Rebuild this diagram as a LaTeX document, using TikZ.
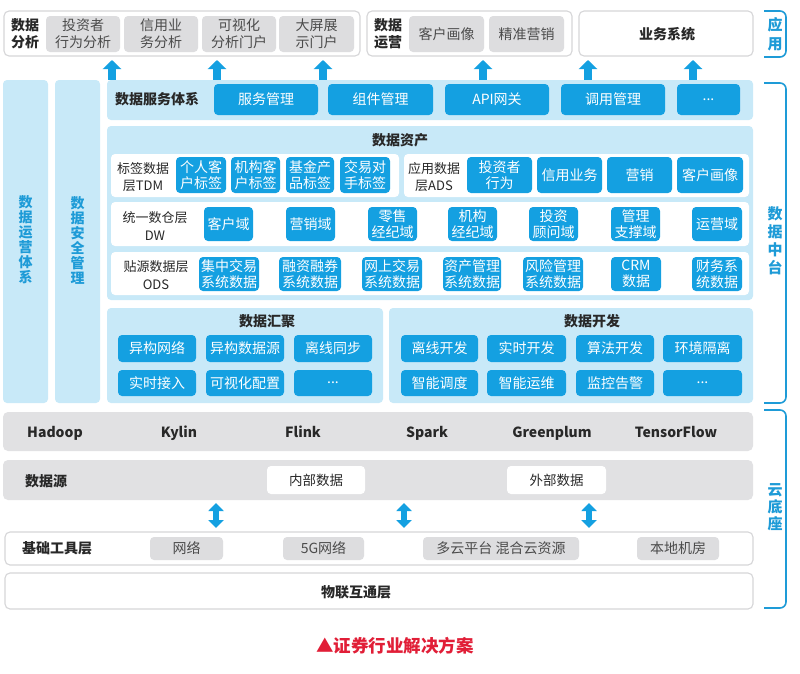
\documentclass[tikz,border=0pt]{standalone}
\usepackage{fontspec}
\setmainfont{Noto Sans CJK SC}
\usetikzlibrary{arrows.meta}
\definecolor{panelblue}{RGB}{200,233,248}
\definecolor{btnblue}{RGB}{20,160,225}
\definecolor{barGray}{RGB}{225,225,227}
\definecolor{pillGray}{RGB}{221,221,223}
\definecolor{borderGray}{RGB}{214,214,216}
\definecolor{txtDark}{RGB}{40,40,40}
\definecolor{txtGray}{RGB}{75,75,75}
\definecolor{vblue}{RGB}{30,155,215}
\definecolor{capRed}{RGB}{225,30,55}
\newcommand\bx[7]{\node[#1, minimum width={(#5-#3)*1pt}, minimum height={(#6-#4)*1pt}] (#2) at ({(#3+#5)/2},{(#4+#6)/2}) {#7};}
\begin{document}
\begin{tikzpicture}[x=1pt,y=-1pt,
  base/.style={inner sep=0pt, outer sep=0pt, align=center},
  panel/.style={base, fill=panelblue, rounded corners=4pt},
  btn/.style={base, fill=btnblue, rounded corners=4pt, text=white, font=\fontsize{14}{16}\selectfont},
  pill/.style={base, fill=pillGray, rounded corners=4pt, text=txtGray, font=\fontsize{14}{17}\selectfont},
  wbox/.style={base, fill=white, draw=borderGray, line width=1.1pt, rounded corners=5pt},
  wrow/.style={base, fill=white, rounded corners=4pt},
  gbar/.style={base, fill=barGray, rounded corners=5pt},
  wpill/.style={base, fill=white, rounded corners=4pt, text=txtDark, font=\fontsize{13.5}{15}\selectfont},
  ttl/.style={base, text=txtDark, font=\fontsize{14}{17}\selectfont\bfseries},
  lbl/.style={base, text=txtDark, font=\fontsize{13}{17.5}\selectfont},
  vtxt/.style={base, text=vblue, font=\fontsize{14}{15}\selectfont\bfseries},
  brk/.style={draw=vblue, line width=1.6pt, rounded corners=6pt},
  uparrow/.style={draw=btnblue, line width=8pt, -{Triangle[width=18pt,length=9pt]}},
  dblarrow/.style={draw=btnblue, line width=6pt, {Triangle[width=15pt,length=8pt]}-{Triangle[width=15pt,length=8pt]}}
]
\useasboundingbox (0,0) rectangle (800,673);
\fill[white] (0,0) rectangle (800,673);

% ---------- top application row ----------
\bx{wbox}{ana}{4}{11}{360}{56}{}
\node[ttl] (analbl) at (25,34) {数据\\分析};
\bx{pill}{g1}{46}{16}{120}{52}{投资者\\行为分析}
\bx{pill}{g2}{124}{16}{198}{52}{信用业\\务分析}
\bx{pill}{g3}{202}{16}{276}{52}{可视化\\分析门户}
\bx{pill}{g4}{279}{16}{354}{52}{大屏展\\示门户}

\bx{wbox}{ops}{367}{11}{572}{56}{}
\node[ttl] (opslbl) at (388,34) {数据\\运营};
\bx{pill}{g5}{409}{16}{484}{52}{客户画像}
\bx{pill}{g6}{489}{16}{564}{52}{精准营销}

\bx{wbox}{biz}{579}{11}{753}{56}{}
\node[ttl] (bizlbl) at (667,34) {业务系统};

\draw[brk] (764,11) -- (786,11) -- (786,57) -- (764,57);
\node[vtxt, font=\fontsize{15}{19}\selectfont\bfseries] (yy) at (775,34) {应\\用};

% ---------- arrows up ----------
\foreach \i/\x in {1/112,2/217,3/323,4/483,5/588,6/693}{
  \coordinate (as\i) at (\x,80);
  \coordinate (ae\i) at (\x,60);
  \draw[uparrow] (as\i) -- (ae\i);
}

% ---------- left columns ----------
\bx{panel}{col1}{3}{80}{48}{403}{}
\bx{panel}{col2}{55}{80}{100}{403}{}
\node[vtxt] (c1t) at (25.5,240) {数\\据\\运\\营\\体\\系};
\node[vtxt] (c2t) at (77.5,240) {数\\据\\安\\全\\管\\理};

% ---------- data service ----------
\bx{panel}{svc}{107}{80}{753}{120}{}
\node[ttl] (svclbl) at (157,99) {数据服务体系};
\bx{btn}{s1}{214}{84}{318}{115}{服务管理}
\bx{btn}{s2}{328}{84}{433}{115}{组件管理}
\bx{btn}{s3}{445}{84}{549}{115}{API网关}
\bx{btn}{s4}{561}{84}{665}{115}{调用管理}
\bx{btn}{s5}{677}{84}{740}{115}{...}

% ---------- data assets ----------
\bx{panel}{ast}{107}{126}{753}{300}{}
\node[ttl] (astlbl) at (400,140) {数据资产};
\bx{wrow}{tdm}{111}{154}{399}{197}{}
\node[lbl] (tdml) at (143,177) {标签数据\\层TDM};
\bx{btn}{t1}{176}{157}{226}{193}{个人客\\户标签}
\bx{btn}{t2}{231}{157}{280}{193}{机构客\\户标签}
\bx{btn}{t3}{286}{157}{334}{193}{基金产\\品标签}
\bx{btn}{t4}{340}{157}{390}{193}{交易对\\手标签}
\bx{wrow}{ads}{404}{154}{749}{197}{}
\node[lbl] (adsl) at (434,177) {应用数据\\层ADS};
\bx{btn}{a1}{467}{157}{532}{193}{投资者\\行为}
\bx{btn}{a2}{537}{157}{602}{193}{信用业务}
\bx{btn}{a3}{607}{157}{672}{193}{营销}
\bx{btn}{a4}{677}{157}{743}{193}{客户画像}

\bx{wrow}{dw}{111}{202}{749}{246}{}
\node[lbl] (dwl) at (155,226) {统一数仓层\\DW};
\bx{btn}{d1}{204}{207}{253}{241}{客户域}
\bx{btn}{d2}{286}{207}{335}{241}{营销域}
\bx{btn}{d3}{368}{207}{417}{241}{零售\\经纪域}
\bx{btn}{d4}{448}{207}{497}{241}{机构\\经纪域}
\bx{btn}{d5}{529}{207}{578}{241}{投资\\顾问域}
\bx{btn}{d6}{611}{207}{660}{241}{管理\\支撑域}
\bx{btn}{d7}{692}{207}{742}{241}{运营域}

\bx{wrow}{ods}{111}{252}{749}{295}{}
\node[lbl] (odsl) at (156,275) {贴源数据层\\ODS};
\bx{btn}{o1}{199}{257}{259}{291}{集中交易\\系统数据}
\bx{btn}{o2}{279}{257}{341}{291}{融资融券\\系统数据}
\bx{btn}{o3}{362}{257}{422}{291}{网上交易\\系统数据}
\bx{btn}{o4}{443}{257}{501}{291}{资产管理\\系统数据}
\bx{btn}{o5}{523}{257}{583}{291}{风险管理\\系统数据}
\bx{btn}{o6}{611}{257}{661}{291}{CRM\\数据}
\bx{btn}{o7}{692}{257}{742}{291}{财务系\\统数据}

% ---------- aggregation & development ----------
\bx{panel}{agg}{107}{308}{383}{403}{}
\node[ttl] (agglbl) at (267,321) {数据汇聚};
\bx{btn}{h1}{118}{335}{196}{362}{异构网络}
\bx{btn}{h2}{206}{335}{284}{362}{异构数据源}
\bx{btn}{h3}{294}{335}{372}{362}{离线同步}
\bx{btn}{h4}{118}{370}{196}{396}{实时接入}
\bx{btn}{h5}{206}{370}{284}{396}{可视化配置}
\bx{btn}{h6}{294}{370}{372}{396}{...}

\bx{panel}{dev}{389}{308}{753}{403}{}
\node[ttl] (devlbl) at (592,321) {数据开发};
\bx{btn}{k1}{401}{335}{478}{362}{离线开发}
\bx{btn}{k2}{487}{335}{566}{362}{实时开发}
\bx{btn}{k3}{576}{335}{654}{362}{算法开发}
\bx{btn}{k4}{663}{335}{742}{362}{环境隔离}
\bx{btn}{k5}{401}{370}{478}{396}{智能调度}
\bx{btn}{k6}{487}{370}{566}{396}{智能运维}
\bx{btn}{k7}{576}{370}{654}{396}{监控告警}
\bx{btn}{k8}{663}{370}{742}{396}{...}

\draw[brk] (764,83) -- (786,83) -- (786,403) -- (764,403);
\node[vtxt, font=\fontsize{15}{18}\selectfont\bfseries] (zt) at (775,241) {数\\据\\中\\台};

% ---------- cloud base ----------
\bx{gbar}{eng}{3}{412}{753}{451}{}
\foreach \n/\x/\t in {e1/55/Hadoop,e2/179/Kylin,e3/303/Flink,e4/427/Spark,e5/552/Greenplum,e6/676/TensorFlow}{
  \node[ttl, anchor=base] (\n) at (\x,437) {\t};
}
\bx{gbar}{src}{3}{460}{753}{500}{}
\node[ttl] (srclbl) at (46,481) {数据源};
\bx{wpill}{in}{267}{466}{365}{494}{内部数据}
\bx{wpill}{ex}{507}{466}{606}{494}{外部数据}

\foreach \i/\x in {1/216,2/404,3/589}{
  \coordinate (ds\i) at (\x,503);
  \coordinate (de\i) at (\x,528);
  \draw[dblarrow] (ds\i) -- (de\i);
}

\bx{wbox}{tool}{5}{532}{753}{565}{}
\node[ttl] (toollbl) at (57,548) {基础工具层};
\bx{pill}{p1}{150}{537}{223}{560}{网络}
\bx{pill}{p2}{283}{537}{364}{560}{5G网络}
\bx{pill}{p3}{423}{537}{579}{560}{多云平台 混合云资源}
\bx{pill}{p4}{637}{537}{719}{560}{本地机房}

\bx{wbox}{iot}{5}{573}{753}{609}{}
\node[ttl] (iotlbl) at (356,592) {物联互通层};

\draw[brk] (764,410) -- (786,410) -- (786,608) -- (764,608);
\node[vtxt, font=\fontsize{15}{17}\selectfont\bfseries] (yd) at (775,507) {云\\底\\座};

% ---------- caption ----------
\node[base, text=capRed, font=\fontsize{17.5}{20}\selectfont\bfseries] (cap) at (395,646) {▲证券行业解决方案};
\end{tikzpicture}
\end{document}
